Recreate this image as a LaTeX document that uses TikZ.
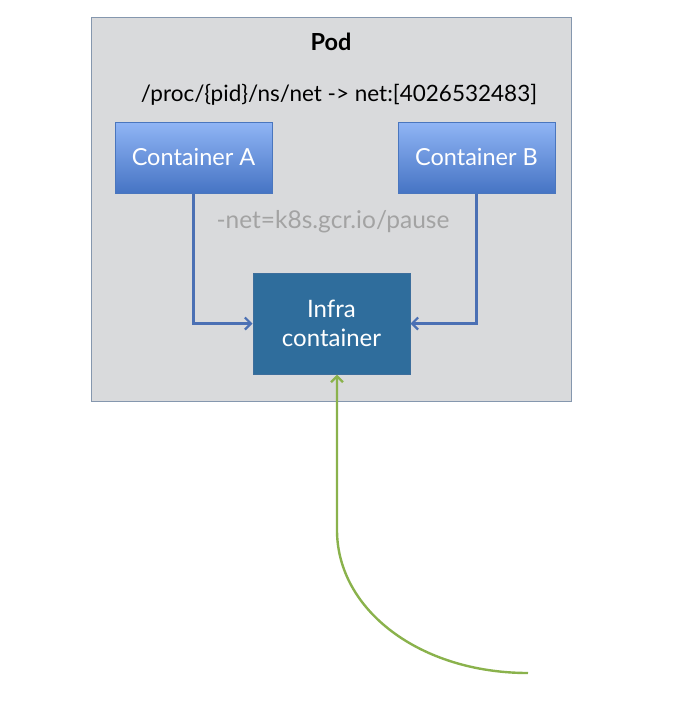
\documentclass[tikz,border=0pt]{standalone}
\usepackage{fontspec}
\setmainfont{Lato}
\usepackage{xcolor}
\usepackage{tikz}
\usetikzlibrary{calc,arrows.meta}
\definecolor{podfill}{HTML}{D9DADC}
\definecolor{poddraw}{HTML}{8597AE}
\definecolor{ctrtop}{HTML}{90B5F5}
\definecolor{ctrbot}{HTML}{4674C4}
\definecolor{ctrdraw}{HTML}{4A76BE}
\definecolor{infrafill}{HTML}{2F6D9C}
\definecolor{infradraw}{HTML}{3D6E9C}
\definecolor{link}{HTML}{4B70B4}
\definecolor{feed}{HTML}{8AB24C}
\definecolor{muted}{HTML}{A3A3A3}
\tikzset{
  podbox/.style={draw=poddraw, fill=podfill, line width=1pt, minimum width=480pt, minimum height=384pt, inner sep=0pt},
  ctr/.style={draw=ctrdraw, line width=1pt, top color=ctrtop, bottom color=ctrbot, text=white,
    minimum width=157pt, minimum height=71pt, inner sep=0pt, font=\fontsize{23.5}{28}\selectfont},
  infra/.style={draw=infradraw, fill=infrafill, line width=1pt, text=white, align=center,
    minimum width=157pt, minimum height=101pt, inner sep=0pt, font=\fontsize{24}{29}\selectfont},
  link/.style={draw=link, line width=2.2pt, -{Straight Barb[length=6pt,width=12pt]}},
  feed/.style={draw=feed, line width=2.4pt, -{Straight Barb[length=6pt,width=12pt]}},
  lab/.style={text=black, font=\fontsize{22.5}{27}\selectfont},
  labm/.style={text=muted, font=\fontsize{24.5}{29}\selectfont},
}
\begin{document}
\begin{tikzpicture}[x=1pt,y=-1pt]
  \useasboundingbox (0,0) rectangle (681,716);

  \node[podbox] (pod) at (331,209) {};
  \node[lab,font=\fontsize{23.5}{28}\bfseries] (podname) at (331,42) {Pod};
  \node[lab] (procns) at (339,95) {/proc/\{pid\}/ns/net -> net:[4026532483]};

  \node[ctr] (ca) at (193.5,157.5) {Container A};
  \node[ctr] (cb) at (476.5,157.5) {Container B};
  \node[infra] (infra) at (331.5,323.5) {Infra\\container};
  \node[labm] (netflag) at (333,222) {-net=k8s.gcr.io/pause};

  \draw[link] (ca.south) |- (infra.west);
  \draw[link] (cb.south) |- (infra.east);

  \coordinate (tail) at (528,673);
  \coordinate (bend) at (337,530);
  \draw[feed] (tail) .. controls (420,673) and (337,610) .. (bend) -- (bend |- infra.south);
\end{tikzpicture}
\end{document}
